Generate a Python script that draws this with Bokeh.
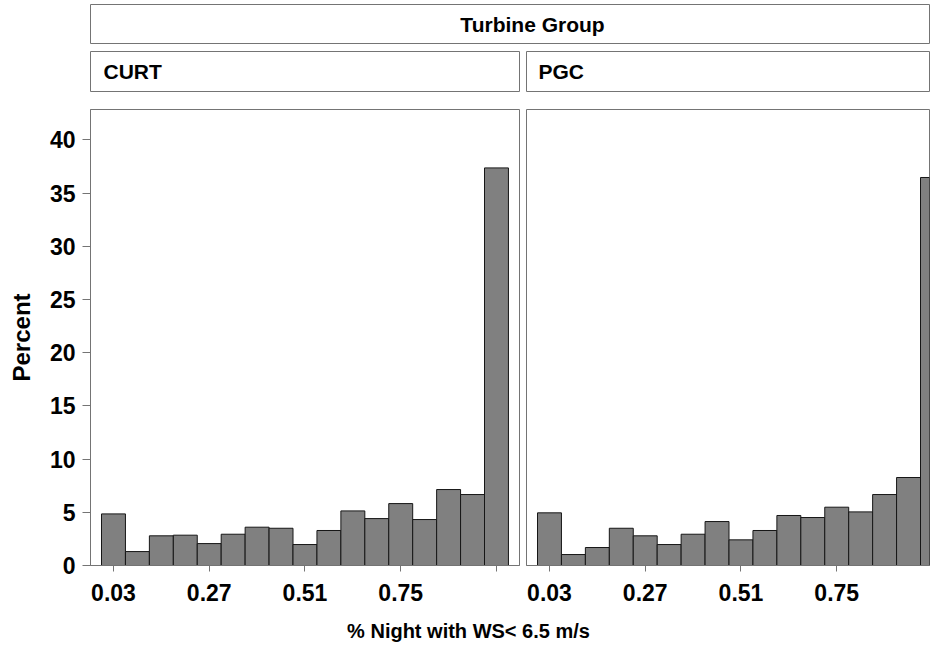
from bokeh.plotting import figure
from bokeh.layouts import column, row
from bokeh.models import Range1d, FixedTicker, Label, Spacer
from bokeh.embed import file_html
from bokeh.resources import INLINE

# ---- data ----
bin_mid = [0.03, 0.09, 0.15, 0.21, 0.27, 0.33, 0.39, 0.45, 0.51,
           0.57, 0.63, 0.69, 0.75, 0.81, 0.87, 0.93, 0.99]
bin_width = 0.06
curt_pct = [4.85, 1.31, 2.79, 2.85, 2.06, 2.94, 3.60, 3.50, 1.97,
            3.29, 5.13, 4.41, 5.82, 4.32, 7.14, 6.67, 37.37]
pgc_pct = [4.95, 1.03, 1.69, 3.50, 2.79, 1.97, 2.94, 4.13, 2.41,
           3.29, 4.70, 4.51, 5.48, 5.04, 6.67, 8.27, 36.47]
x_tick_vals = [0.03, 0.27, 0.51, 0.75]
x_minor_vals = [0.99]
y_tick_vals = [0, 5, 10, 15, 20, 25, 30, 35, 40]
group_title = "Turbine Group"
panel_names = ["CURT", "PGC"]
x_title = "% Night with WS< 6.5 m/s"
y_title = "Percent"

FONT = "Liberation Sans"
GRAY = "#747474"
BAR_FILL = "#808080"
BAR_LINE = "#161616"

X0 = -0.0276
PXU = 398.96  # px per x unit
Y_END = 42.86


def header(width, fw, fh, mb_top, mb_bottom, text, align, tx):
    p = figure(width=width, height=mb_top + fh + mb_bottom,
               x_range=Range1d(0, fw), y_range=Range1d(0, fh),
               x_axis_type=None, y_axis_type=None,
               min_border_left=1, min_border_right=1,
               min_border_top=mb_top, min_border_bottom=mb_bottom,
               toolbar_location=None, output_backend="svg")
    p.grid.visible = False
    p.outline_line_color = GRAY
    p.outline_line_width = 1
    p.add_layout(Label(x=tx, y=fh / 2, text=text, text_align=align,
                       text_baseline="middle", text_font=FONT,
                       text_font_style="bold", text_font_size="21px",
                       text_color="black"))
    return p


def panel(vals, width, min_left, fw, show_y):
    p = figure(width=width, height=510,
               x_range=Range1d(X0, X0 + fw / PXU),
               y_range=Range1d(0, Y_END),
               min_border_left=min_left, min_border_right=1,
               min_border_top=1, min_border_bottom=53,
               toolbar_location=None, output_backend="svg")
    p.grid.visible = False
    p.outline_line_color = GRAY
    p.vbar(x=bin_mid, width=bin_width, top=vals, bottom=0,
           fill_color=BAR_FILL, line_color=BAR_LINE, line_width=1)
    xa = p.xaxis[0]
    xa.ticker = FixedTicker(ticks=x_tick_vals, minor_ticks=x_minor_vals)
    xa.major_tick_out = 6
    xa.major_tick_in = 0
    xa.minor_tick_out = 6
    xa.minor_tick_in = 0
    xa.major_tick_line_color = GRAY
    xa.minor_tick_line_color = GRAY
    xa.axis_line_color = GRAY
    xa.major_label_standoff = 12
    xa.major_label_text_font = FONT
    xa.major_label_text_font_style = "bold"
    xa.major_label_text_font_size = "23px"
    xa.major_label_text_color = "black"
    ya = p.yaxis[0]
    if show_y:
        ya.ticker = FixedTicker(ticks=y_tick_vals)
        ya.major_tick_out = 8
        ya.major_tick_in = 0
        ya.minor_tick_line_color = None
        ya.major_tick_line_color = GRAY
        ya.axis_line_color = GRAY
        ya.major_label_standoff = 7
        ya.major_label_text_font = FONT
        ya.major_label_text_font_style = "bold"
        ya.major_label_text_font_size = "23px"
        ya.major_label_text_color = "black"
        ya.axis_label = y_title
        ya.axis_label_standoff = 12
        ya.axis_label_text_font = FONT
        ya.axis_label_text_font_style = "bold"
        ya.axis_label_text_font_size = "24px"
        ya.axis_label_text_color = "black"
    else:
        ya.visible = False
    return p


# row 1: group header (content y 0..50, box 4..43)
top = header(841, 839, 39, 4, 7, group_title, "center", 442)
r1 = row(Spacer(width=89, height=50), top)

# row 2: panel headers (y 50..108, boxes 51..91)
h_curt = header(431, 429, 40, 1, 17, panel_names[0], "left", 13)
h_pgc = header(405, 403, 40, 1, 17, panel_names[1], "left", 12)
r2 = row(Spacer(width=89, height=58), h_curt, Spacer(width=5, height=58), h_pgc)

# row 3: panels (y 108..618, frames 109..565)
p_curt = panel(curt_pct, 520, 90, 429, True)
p_pgc = panel(pgc_pct, 410, 6, 403, False)
r3 = row(p_curt, p_pgc)

# row 4: x title (y 618..642)
xt = figure(width=930, height=24, x_range=Range1d(0, 930), y_range=Range1d(0, 24),
            x_axis_type=None, y_axis_type=None, min_border=0,
            toolbar_location=None, output_backend="svg")
xt.grid.visible = False
xt.outline_line_color = None
xt.add_layout(Label(x=468, y=12, text=x_title, text_align="center",
                    text_baseline="middle", text_font=FONT,
                    text_font_style="bold", text_font_size="20px",
                    text_color="black"))

layout = column(r1, r2, r3, xt)

open("out.html", "w").write(file_html(layout, INLINE))
